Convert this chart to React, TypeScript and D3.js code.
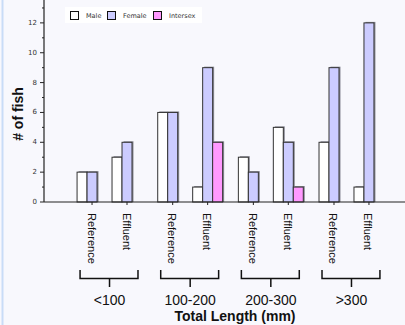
import React from "react";
import * as d3 from "d3";

const groups = ["<100", "100-200", "200-300", ">300"];
const sites = ["Reference", "Effluent"];
const seriesNames = ["Male", "Female", "Intersex"];
// values per group, [Reference, Effluent]
const maleValues = [[2, 3], [6, 1], [3, 5], [4, 1]];
const femaleValues = [[2, 4], [6, 9], [2, 4], [9, 12]];
const intersexValues = [[0, 0], [0, 4], [0, 1], [0, 0]];
const yTicks = [0, 2, 4, 6, 8, 10, 12];
const yMinorTicks = [1, 3, 5, 7, 9, 11, 13];
const colors = ["#ffffff", "#ccccff", "#ff99ff"];

const W = 405;
const H = 325;
const axisX = 44;
const axisY = 202;

export default function App() {
  const seriesValues = [maleValues, femaleValues, intersexValues];
  const y = d3.scaleLinear().domain([0, 13.5]).range([axisY, 0.5]);
  const xGroup = d3
    .scaleBand<string>()
    .domain(groups)
    .range([69.2, 391.8])
    .paddingInner(0.195)
    .paddingOuter(0.0975);
  const xSite = d3
    .scaleBand<string>()
    .domain(sites)
    .range([0, xGroup.bandwidth()])
    .paddingInner(0.143);
  const xSeries = d3
    .scaleBand<string>()
    .domain(seriesNames)
    .range([0, xSite.bandwidth()]);

  const bars: React.ReactNode[] = [];
  groups.forEach((g, gi) => {
    sites.forEach((s, si) => {
      seriesNames.forEach((sn, k) => {
        const v = seriesValues[k][gi][si];
        if (!v) return;
        const x = (xGroup(g) ?? 0) + (xSite(s) ?? 0) + (xSeries(sn) ?? 0);
        const w = xSeries.bandwidth();
        const top = y(v);
        bars.push(
          <g key={`${g}-${s}-${sn}`}>
            <rect x={x + 1.5} y={top - 1} width={w} height={axisY - top + 1} fill="#8a8a95" />
            <rect x={x} y={top} width={w} height={axisY - top} fill={colors[k]} stroke="#333" strokeWidth={1} />
          </g>
        );
      });
    });
  });

  const font = "'Liberation Sans', Arial, sans-serif";
  const smallFont = "'DejaVu Sans', Verdana, sans-serif";

  return (
    <div style={{ position: "fixed", left: 0, top: 0, width: W, height: H }}>
      <svg width={W} height={H} style={{ display: "block" }}>
        <rect x={0} y={0} width={W} height={H} fill="#f8f8fd" />
        <rect x={1.5} y={0} width={2} height={H} fill="#c9dcf7" />

        {/* legend */}
        <rect x={65} y={7} width={137} height={16} fill="#ffffff" />
        {seriesNames.map((sn, i) => {
          const lx = [70, 107, 153][i];
          return (
            <g key={sn}>
              <rect x={lx + 0.5} y={11.5} width={8} height={8} fill={colors[i]} stroke="#111" strokeWidth={1} />
              <text x={lx + 16} y={18} fontFamily={smallFont} fontSize={6.5} fill="#333">
                {sn}
              </text>
            </g>
          );
        })}

        {bars}

        {/* y axis */}
        <line x1={axisX} x2={axisX} y1={0} y2={axisY} stroke="#222" strokeWidth={1.2} />
        {yTicks.map((t) => (
          <g key={t}>
            <line x1={axisX - 4} x2={axisX} y1={y(t)} y2={y(t)} stroke="#222" strokeWidth={1} />
            <text
              x={37}
              y={y(t)}
              textAnchor="end"
              dominantBaseline="central"
              fontFamily={smallFont}
              fontSize={7}
              fill="#333"
            >
              {t}
            </text>
          </g>
        ))}
        {yMinorTicks.map((t) => (
          <line key={t} x1={axisX - 2} x2={axisX} y1={y(t)} y2={y(t)} stroke="#222" strokeWidth={1} />
        ))}

        {/* x axis */}
        <line x1={axisX} x2={W} y1={axisY} y2={axisY} stroke="#222" strokeWidth={1.2} />
        {groups.map((g) =>
          sites.map((s) => {
            const cx = (xGroup(g) ?? 0) + (xSite(s) ?? 0) + xSite.bandwidth() / 2;
            return (
              <g key={`${g}-${s}-lab`}>
                <line x1={cx} x2={cx} y1={axisY} y2={axisY + 3} stroke="#222" strokeWidth={1} />
                <text
                  transform={`translate(${cx - 4.5},${213}) rotate(90)`}
                  fontFamily={font}
                  fontSize={11}
                  fill="#111"
                >
                  {s}
                </text>
              </g>
            );
          })
        )}

        {/* brackets */}
        {groups.map((g) => {
          const x0 = (xGroup(g) ?? 0) + 3;
          const x1 = (xGroup(g) ?? 0) + xGroup.bandwidth() - 4;
          const cx = (xGroup(g) ?? 0) + xGroup.bandwidth() / 2;
          return (
            <g key={`${g}-br`}>
              <path
                d={`M${x0},270 V278.5 H${x1} V270`}
                fill="none"
                stroke="#111"
                strokeWidth={1.5}
              />
              <line x1={cx} x2={cx} y1={278.5} y2={287} stroke="#111" strokeWidth={1.5} />
              <text x={cx} y={304.5} textAnchor="middle" fontFamily={font} fontSize={14} fill="#111">
                {g}
              </text>
            </g>
          );
        })}

        <text x={235} y={321} textAnchor="middle" fontFamily={font} fontSize={14} fontWeight="bold" fill="#111">
          Total Length (mm)
        </text>
        <text
          transform="translate(23,114) rotate(-90)"
          textAnchor="middle"
          fontFamily={font}
          fontSize={14}
          fontWeight="bold"
          fill="#111"
        >
          # of fish
        </text>
      </svg>
    </div>
  );
}
